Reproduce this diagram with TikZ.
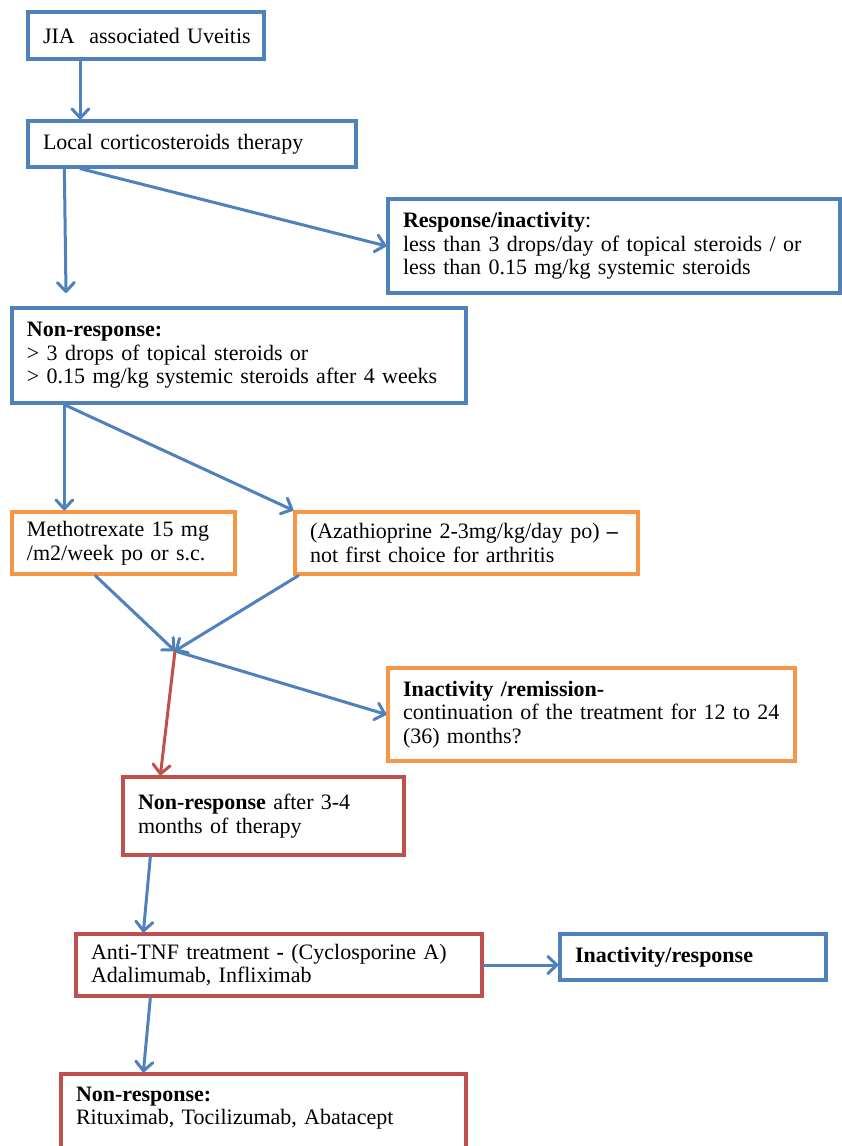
\documentclass[tikz,border=0pt]{standalone}
\usepackage{fontspec}
\setmainfont{Liberation Serif}
\usetikzlibrary{arrows.meta}
\definecolor{cblue}{HTML}{4F81BD}
\definecolor{corange}{HTML}{F79646}
\definecolor{cred}{HTML}{C0504D}
\begin{document}
\begin{tikzpicture}[x=1pt,y=-1pt,
  box/.style={draw, line width=3.3pt, fill=white, inner xsep=0pt, inner ysep=0pt, align=left,
    font=\fontsize{22}{23.5}\selectfont, anchor=center},
  arr/.style={line width=3pt, line cap=round, -{Straight Barb[length=9pt,width=17pt,line width=3pt,round]}},
]
\useasboundingbox (0,0) rectangle (842,1146);
\clip (0,0) rectangle (842,1146);
\fill[white] (0,0) rectangle (842,1146);

\node[box, draw=cblue, minimum width=236pt, minimum height=47pt, text width=206pt] (jia) at (146,35.5)
  {\makebox[206pt][l]{JIA\ \ associated Uveitis}};
\node[box, draw=cblue, minimum width=328pt, minimum height=46pt, text width=298pt] (loc) at (192,144)
  {Local corticosteroids therapy};
\node[box, draw=cblue, minimum width=452pt, minimum height=94pt, text width=422pt] (resp) at (614,246)
  {\textbf{Response/inactivity}:\\less than 3 drops/day of topical steroids / or\\less than 0.15 mg/kg systemic steroids};
\node[box, draw=cblue, minimum width=454pt, minimum height=95pt, text width=424pt] (nra) at (239,355.5)
  {\textbf{Non-response:}\\> 3 drops of topical steroids or\\> 0.15 mg/kg systemic steroids after 4 weeks};
\node[box, draw=corange, minimum width=223pt, minimum height=62pt, text width=193pt] (meth) at (123.5,543)
  {Methotrexate 15 mg\\/m2/week po or s.c.};
\node[box, draw=corange, minimum width=343pt, minimum height=62pt, text width=313pt] (aza) at (466.5,543)
  {(Azathioprine 2-3mg/kg/day po) \textbf{--}\\not first choice for arthritis};
\node[box, draw=corange, minimum width=407pt, minimum height=93pt, text width=377pt] (inact) at (591.5,714.5)
  {\textbf{Inactivity /remission-}\\continuation of the treatment for 12 to 24\\(36) months?};
\node[box, draw=cred, minimum width=281pt, minimum height=78pt, text width=251pt] (nrb) at (263.5,816)
  {\textbf{Non-response} after 3-4\\months of therapy};
\node[box, draw=cred, minimum width=406pt, minimum height=62pt, text width=376pt] (anti) at (279,965)
  {Anti-TNF treatment \textbf{-} (Cyclosporine A)\\Adalimumab, Infliximab};
\node[box, draw=cblue, minimum width=266pt, minimum height=46pt, text width=236pt] (inres) at (693,957)
  {\textbf{Inactivity/response}};
\node[box, draw=cred, minimum width=405pt, minimum height=94pt, text width=375pt] (nrc) at (263.5,1121)
  {\textbf{Non-response:}\\Rituximab, Tocilizumab, Abatacept\\\strut};

\coordinate (c1) at (66,293);
\coordinate (m) at (175,651);

\draw[arr, cblue] ([xshift=54pt]jia.south west) -- ([xshift=54pt]loc.north west);
\draw[arr, cblue] ([xshift=38pt]loc.south west) -- (c1);
\draw[arr, cblue] ([xshift=54pt]loc.south west) -- (resp.west);
\draw[arr, cblue] ([xshift=54pt]nra.south west) -- ([xshift=54pt]meth.north west);
\draw[arr, cblue] ([xshift=54pt]nra.south west) -- (aza.north west);
\draw[arr, cblue] ([xshift=85pt]meth.south west) -- (m);
\draw[arr, cblue] ([xshift=5pt]aza.south west) -- (m);
\draw[arr, cblue] (m) -- (inact.west);
\draw[arr, cred] (m) -- ([xshift=39pt]nrb.north west);
\draw[arr, cblue] ([xshift=29pt]nrb.south west) -- ([xshift=69pt]anti.north west);
\draw[arr, cblue] (anti.east) -- (anti.east -| inres.west);
\draw[arr, cblue] ([xshift=76pt]anti.south west) -- ([xshift=84pt]nrc.north west);
\end{tikzpicture}
\end{document}
